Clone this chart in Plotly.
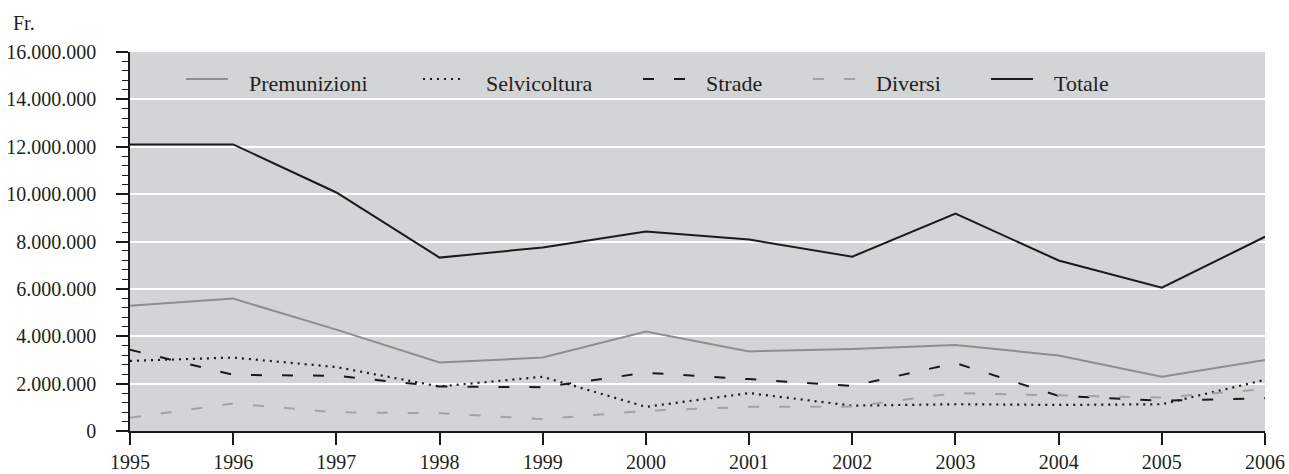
import plotly.graph_objects as go

years = list(range(1995, 2007))

premunizioni = [5290000, 5590000, 4280000, 2890000, 3100000, 4200000,
                3360000, 3460000, 3630000, 3190000, 2290000, 3000000]
selvicoltura = [2960000, 3100000, 2700000, 1880000, 2290000, 1020000,
                1600000, 1070000, 1130000, 1100000, 1130000, 2160000]
strade = [3430000, 2370000, 2330000, 1880000, 1850000, 2460000,
          2190000, 1900000, 2870000, 1480000, 1280000, 1380000]
diversi = [560000, 1160000, 790000, 750000, 500000, 850000,
           1020000, 1030000, 1600000, 1510000, 1410000, 1770000]
totale = [12100000, 12100000, 10070000, 7320000, 7750000, 8420000,
          8080000, 7360000, 9180000, 7200000, 6050000, 8200000]

y_ticks = list(range(0, 16000001, 2000000))
y_labels = ["0", "2.000.000", "4.000.000", "6.000.000", "8.000.000",
            "10.000.000", "12.000.000", "14.000.000", "16.000.000"]

FONT = "Liberation Serif, Times New Roman, serif"
INK = "#231f20"

# plot area in pixels (used to place the hand-drawn legend key)
W, H = 1289, 474
L, R, T, B = 130, 24, 52, 43
PW, PH = W - L - R, H - T - B


def px_x(px):
    return (px - L) / PW


def px_y(py):
    return (H - B - py) / PH


series = [
    ("Premunizioni", premunizioni, dict(color="#8e8e8e", width=2, dash="solid")),
    ("Selvicoltura", selvicoltura, dict(color="#1a1a1a", width=2.2, dash="2px,5px")),
    ("Strade", strade, dict(color="#1a1a1a", width=2, dash="11px,20px")),
    ("Diversi", diversi, dict(color="#a3a3a3", width=2, dash="11px,20px")),
    ("Totale", totale, dict(color="#1a1a1a", width=2, dash="solid")),
]
# left pixel edge of each key line
key_x = [186, 423, 643, 813, 991]

fig = go.Figure()
shapes, annotations = [], []
for (name, vals, line), kx in zip(series, key_x):
    fig.add_trace(go.Scatter(x=years, y=vals, name=name, mode="lines",
                             line=line, showlegend=False))
    shapes.append(dict(type="line", xref="paper", yref="paper",
                       x0=px_x(kx), x1=px_x(kx + 42), y0=px_y(79), y1=px_y(79),
                       line=line))
    annotations.append(dict(text=name, xref="paper", yref="paper",
                            x=px_x(kx + 61), y=px_y(84), xanchor="left",
                            yanchor="middle", showarrow=False,
                            font=dict(family=FONT, size=22, color=INK)))

annotations.append(dict(
    text="Fr.", xref="paper", yref="paper", x=px_x(11), y=px_y(23),
    xanchor="left", yanchor="middle", showarrow=False,
    font=dict(family=FONT, size=20, color=INK),
))

fig.update_layout(
    width=W, height=H,
    margin=dict(l=L, r=R, t=T, b=B),
    paper_bgcolor="white",
    plot_bgcolor="#d3d4d6",
    font=dict(family=FONT, size=20, color=INK),
    showlegend=False,
    shapes=shapes,
    annotations=annotations,
)

fig.update_xaxes(
    range=[1995, 2006], tickmode="array", tickvals=years,
    ticktext=[str(y) for y in years], automargin=False,
    showgrid=False, zeroline=False,
    showline=True, linecolor="#1a1a1a", linewidth=1.5,
    ticks="outside", ticklen=12, tickwidth=1.5, tickcolor="#1a1a1a",
    ticklabelstandoff=0,
    tickfont=dict(family=FONT, size=20, color=INK),
)
fig.update_yaxes(
    range=[0, 16000000], tickmode="array", tickvals=y_ticks, ticktext=y_labels,
    automargin=False,
    showgrid=True, gridcolor="white", gridwidth=1.5, zeroline=False,
    showline=True, linecolor="#1a1a1a", linewidth=1.5,
    ticks="outside", ticklen=12, tickwidth=1.5, tickcolor="#1a1a1a",
    ticklabelstandoff=16,
    tickfont=dict(family=FONT, size=20, color=INK),
    minor=dict(dtick=400000, ticks="outside", ticklen=6, tickwidth=1.2,
               tickcolor="#1a1a1a", showgrid=False),
)

fig.write_html("out.html")
